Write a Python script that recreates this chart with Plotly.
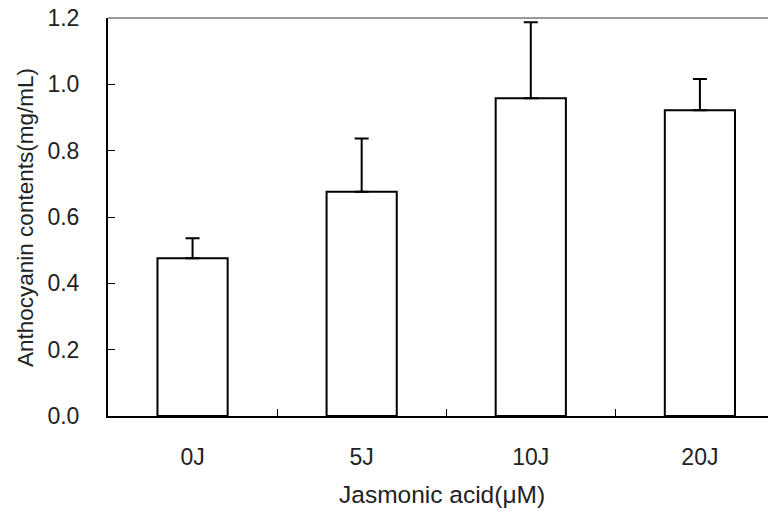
import plotly.graph_objects as go

categories = ["0J", "5J", "10J", "20J"]
values = [0.476, 0.676, 0.958, 0.922]
errors = [0.060, 0.161, 0.229, 0.094]
y_ticks = [0.0, 0.2, 0.4, 0.6, 0.8, 1.0, 1.2]

FONT = "Liberation Sans, Arial, sans-serif"

fig = go.Figure()
fig.add_trace(go.Bar(
    x=categories,
    y=values,
    width=0.415,
    marker=dict(color="white", line=dict(color="black", width=2)),
    error_y=dict(type="data", array=errors, arrayminus=[0] * len(errors),
                 symmetric=False, color="black", thickness=2, width=7),
    showlegend=False,
))

fig.add_shape(type="line", xref="paper", yref="paper", x0=0, x1=1, y0=1, y1=1,
              line=dict(color="#999999", width=2), layer="above")

fig.add_annotation(text="Jasmonic acid(μM)", xref="paper", yref="paper",
                   x=0.5, y=-0.196, xanchor="center", yanchor="middle",
                   showarrow=False, font=dict(size=24.5))
fig.add_annotation(text="Anthocyanin contents(mg/mL)", xref="paper", yref="paper",
                   x=-0.1243, y=0.5, xanchor="center", yanchor="middle", textangle=-90,
                   showarrow=False, font=dict(size=22.5))

fig.update_layout(
    width=776, height=513,
    margin=dict(l=100, r=8, t=10, b=105),
    paper_bgcolor="white", plot_bgcolor="white",
    font=dict(family=FONT, size=23, color="#222222"),
    xaxis=dict(
        type="category",
        range=[-0.5, 3.45],
        automargin=False,
        showline=True, linecolor="black", linewidth=2,
        ticks="inside", tickson="boundaries", ticklen=7, tickwidth=1, tickcolor="black",
        showgrid=False, zeroline=False,
        ticklabelstandoff=19,
    ),
    yaxis=dict(
        range=[0, 1.2],
        tickvals=y_ticks,
        tickformat=".1f",
        automargin=False,
        ticklabeloverflow="allow",
        showline=True, linecolor="black", linewidth=2,
        ticks="inside", ticklen=7, tickwidth=1, tickcolor="black",
        showgrid=False, zeroline=False,
        ticklabelstandoff=22,
        tickfont=dict(size=23),
    ),
)

fig.write_html("out.html")
